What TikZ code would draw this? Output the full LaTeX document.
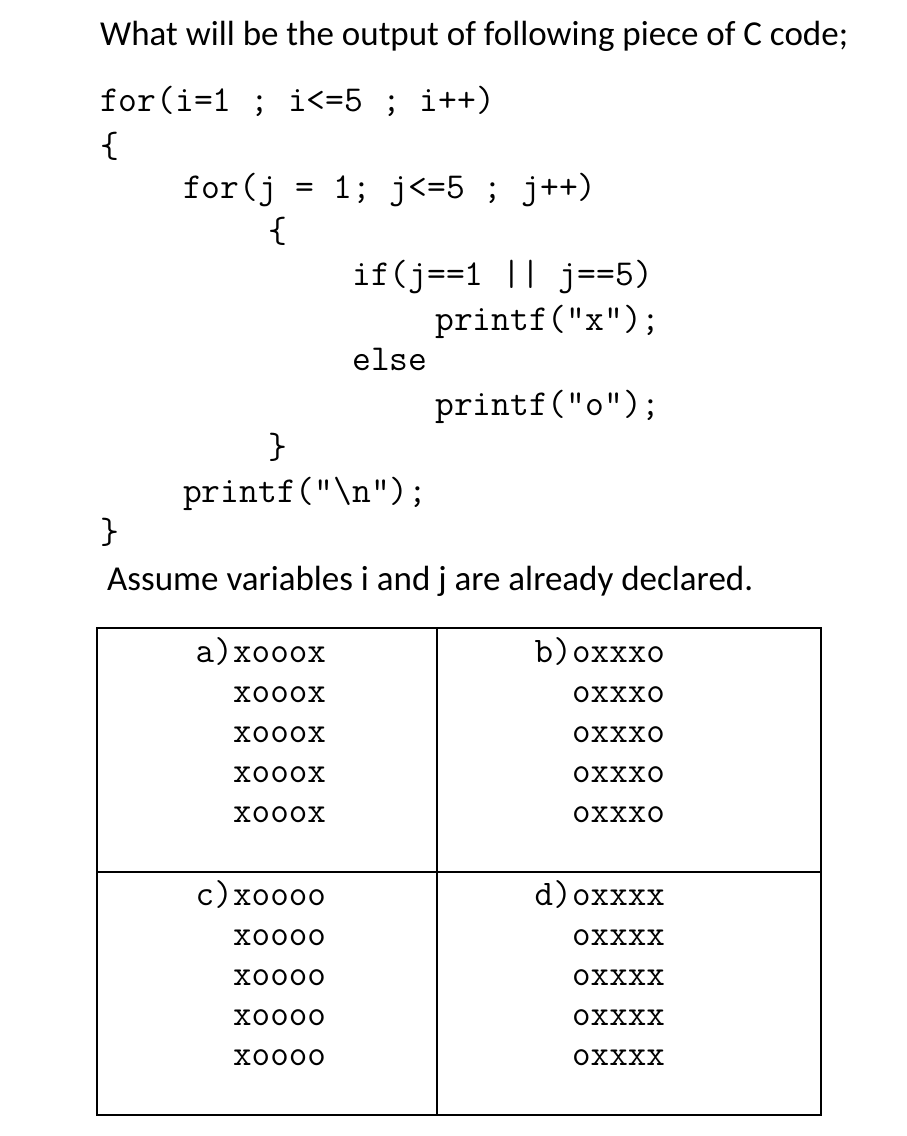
\documentclass[tikz,border=0pt]{standalone}
\usepackage{fontspec}
\setmainfont{Carlito}
\begin{document}
\begin{tikzpicture}[x=1pt,y=-1pt,
  title/.style={anchor=base west,inner sep=0pt,font=\fontsize{35}{40}\selectfont},
  code/.style={anchor=base west,inner sep=0pt,font=\ttfamily\fontsize{36.5}{42}\selectfont},
  opt/.style={anchor=base west,inner sep=0pt,font=\ttfamily\fontsize{36}{42}\selectfont}]
\useasboundingbox[fill=white] (0,0) rectangle (906,1136);
\node[title] (t) at (100,45) {What will be the output of following piece of C code;};
\node[code] (c1) at (100,111) {for(i=1 ; i<=5 ; i++)};
\node[code] (c2) at (100,157) {\{};
\node[code] (c3) at (183,198) {for(j = 1; j<=5 ; j++)};
\node[code] (c4) at (268,242) {\{};
\node[code] (c5) at (352,285) {if(j==1 || j==5)};
\node[code] (c6) at (435,330) {printf("x");};
\node[code] (c7) at (352,370) {else};
\node[code] (c8) at (435,415) {printf("o");};
\node[code] (c9) at (268,458) {\}};
\node[code] (c10) at (183,502) {printf("\textbackslash n");};
\node[code] (c11) at (100,543) {\}};
\node[title] (as) at (107,590) {Assume variables i and j are already declared.};
\draw[line width=1.3pt] (97,628) rectangle (821,1115);
\draw[line width=1.3pt] (437,628) -- (437,1115);
\draw[line width=1.3pt] (97,872) -- (821,872);
\foreach \k/\y in {0/662,1/702,2/742,3/782,4/822}{
  \node[opt] (a\k) at (233,\y) {xooox};
  \node[opt] (b\k) at (572,\y) {oxxxo};
}
\foreach \k/\y in {0/905,1/945,2/985,3/1025,4/1065}{
  \node[opt] (cc\k) at (233,\y) {xoooo};
  \node[opt] (d\k) at (572,\y) {oxxxx};
}
\node[opt,anchor=base east] (la) at (a0.base west) {a)\ };
\node[opt,anchor=base east] (lb) at (b0.base west) {b)\ };
\node[opt,anchor=base east] (lc) at (cc0.base west) {c)\ };
\node[opt,anchor=base east] (ld) at (d0.base west) {d)\ };
\end{tikzpicture}
\end{document}
